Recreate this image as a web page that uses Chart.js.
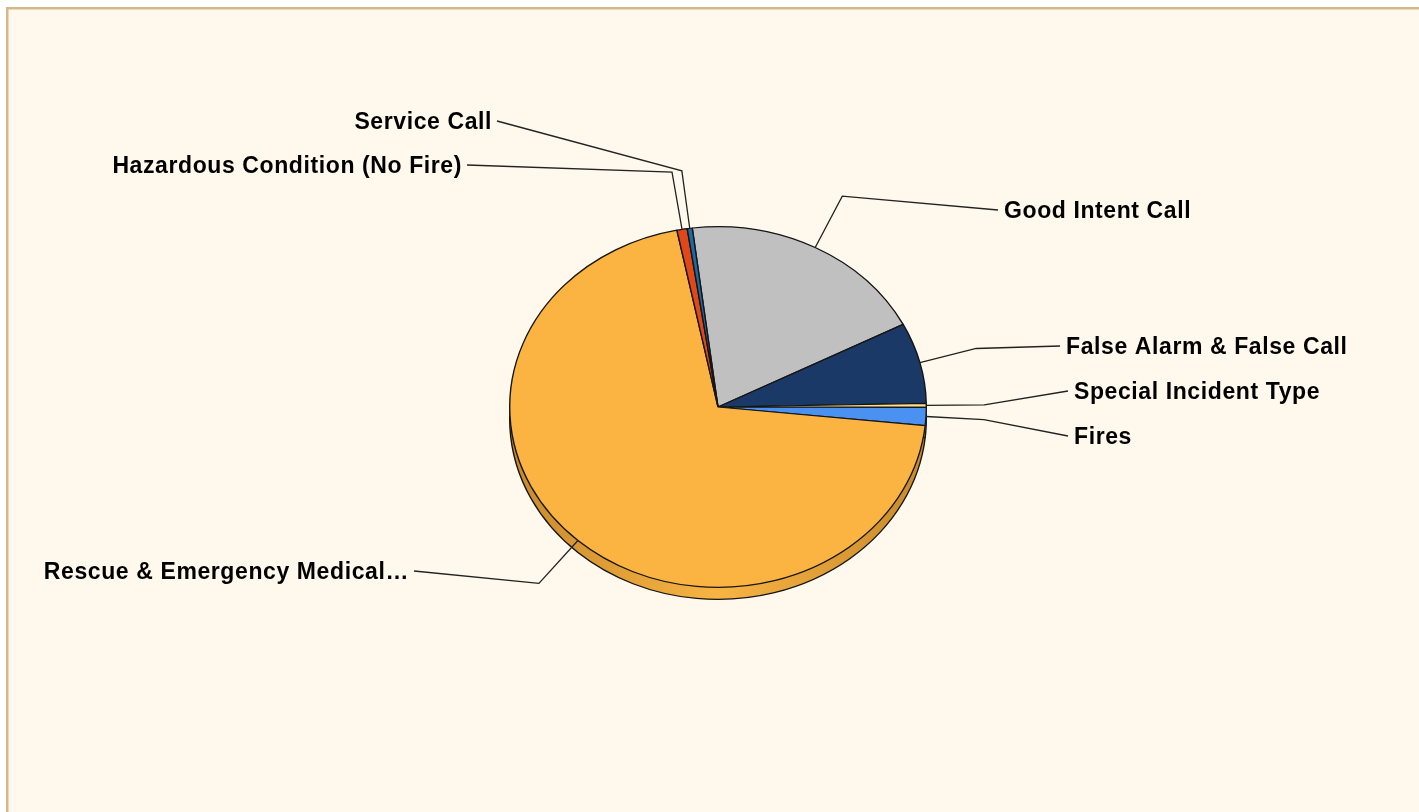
<!DOCTYPE html>
<html><head><meta charset="utf-8">
<script src="https://cdn.jsdelivr.net/npm/chart.js@4/dist/chart.umd.min.js"></script>
<style>html,body{margin:0;padding:0;background:#fff;overflow:hidden}canvas{display:block}</style>
</head><body>
<canvas id="c" width="1419" height="812"></canvas>
<script>
// ---- data ----
const categories = ['Good Intent Call','False Alarm & False Call','Special Incident Type','Fires','Rescue & Emergency Medical…','Hazardous Condition (No Fire)','Service Call'];
const values = [19.4, 7.25, 0.36, 1.6, 70.2, 0.8, 0.39];
const colors = ['#c0c0c0','#1b3966','#fbe08c','#4a91f2','#fbb341','#e0481a','#1b6aa6'];

// ---- layout (not data) ----
const labelAnchors = [[1004,210,'left'],[1066,346,'left'],[1074,391,'left'],[1074,436,'left'],[408,571,'right'],[461,165,'right'],[491,121,'right']];
const TILT = 0.866, DEPTH = 12, ELBOW = 58;

const bgPlugin = {
  id:'bg',
  beforeDraw(chart){
    const ctx = chart.ctx;
    ctx.save();
    ctx.fillStyle = '#ffffff';
    ctx.fillRect(0,0,chart.width,chart.height);
    ctx.fillStyle = '#fff8ec';
    ctx.fillRect(7,8,chart.width,chart.height);
    ctx.strokeStyle = '#d5b789';
    ctx.lineWidth = 2.5;
    ctx.strokeRect(7.25,8.25,chart.width+20,chart.height+20);
    ctx.restore();
  }
};

const tiltPlugin = {
  id:'tilt',
  beforeDatasetsDraw(chart){
    const ctx = chart.ctx;
    const meta = chart.getDatasetMeta(0);
    const a0 = meta.data[0];
    const cx = a0.x, cy = a0.y, r = a0.outerRadius;
    ctx.save();
    // side (depth)
    ctx.save();
    ctx.translate(0, DEPTH);
    ctx.translate(cx, cy); ctx.scale(1, TILT); ctx.translate(-cx, -cy);
    const g = ctx.createLinearGradient(cx - r, 0, cx + r, 0);
    g.addColorStop(0, '#c8892a');
    g.addColorStop(0.5, '#f8b443');
    g.addColorStop(1, '#c8892a');
    meta.data.forEach(arc => {
      const f = Object.create(arc);
      f.options = Object.assign({}, arc.options, {backgroundColor: g});
      f.draw(ctx);
    });
    ctx.restore();
    ctx.translate(cx, cy); ctx.scale(1, TILT); ctx.translate(-cx, -cy);
  },
  afterDatasetsDraw(chart){ chart.ctx.restore(); }
};

const labelPlugin = {
  id:'labels',
  afterDraw(chart){
    const ctx = chart.ctx;
    const meta = chart.getDatasetMeta(0);
    ctx.save();
    ctx.font = 'bold 23px "Liberation Sans", Arial, sans-serif';
    ctx.letterSpacing = '0.6px';
    ctx.textBaseline = 'middle';
    meta.data.forEach((arc, i) => {
      const cx = arc.x, cy = arc.y, r = arc.outerRadius;
      const mid = (arc.startAngle + arc.endAngle) / 2;
      const px = cx + r * Math.cos(mid), py = cy + r * TILT * Math.sin(mid);
      const ex = px + ELBOW * Math.cos(mid), ey = py + ELBOW * Math.sin(mid);
      const [lx, ly, al] = labelAnchors[i];
      const tx = al === 'left' ? lx - 6 : lx + 6;
      ctx.strokeStyle = '#222222';
      ctx.lineWidth = 1.3;
      ctx.beginPath();
      ctx.moveTo(px, py); ctx.lineTo(ex, ey); ctx.lineTo(tx, ly);
      ctx.stroke();
      ctx.fillStyle = '#000000';
      ctx.textAlign = al;
      ctx.fillText(categories[i], al === 'right' ? lx + 1 : lx, ly + 1.5);
    });
    ctx.restore();
  }
};

new Chart(document.getElementById('c'), {
  type: 'pie',
  data: {
    labels: categories,
    datasets: [{
      data: values,
      backgroundColor: colors,
      borderColor: '#151515',
      borderWidth: 1.4
    }]
  },
  options: {
    responsive: false,
    animation: false,
    rotation: -7.1,
    layout: { padding: { left: 17, right: 0, top: 198, bottom: 196 } },
    plugins: { legend: { display: false }, tooltip: { enabled: false } },
    events: []
  },
  plugins: [bgPlugin, tiltPlugin, labelPlugin]
});
</script>
</body></html>
